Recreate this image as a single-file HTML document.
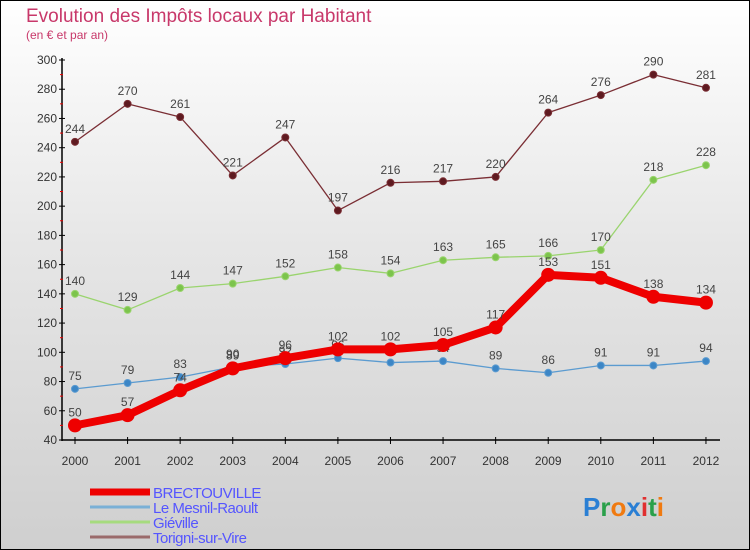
<!DOCTYPE html>
<html><head><meta charset="utf-8"><style>
body{margin:0;}
#c{position:relative;width:750px;height:550px;box-sizing:border-box;border:1px solid #000;background:linear-gradient(#fff 0%,#e6e6e6 45%,#cfcfcf 100%);font-family:"Liberation Sans",sans-serif;overflow:hidden}
</style></head><body>
<div id="c">
<svg id="s" width="750" height="550" style="position:absolute;left:-1px;top:-1px">
<text x="26" y="22" font-size="19" fill="#c8386a">Evolution des Impôts locaux par Habitant</text>
<text x="26" y="39" font-size="12" fill="#c8386a">(en € et par an)</text>
</svg>
</div>
<script>
const years=[2000,2001,2002,2003,2004,2005,2006,2007,2008,2009,2010,2011,2012];
const yTicks=[40,60,80,100,120,140,160,180,200,220,240,260,280,300];
const brectouville=[50,57,74,89,96,102,102,105,117,153,151,138,134];
const mesnil=[75,79,83,90,92,96,93,94,89,86,91,91,94];
const gieville=[140,129,144,147,152,158,154,163,165,166,170,218,228];
const torigni=[244,270,261,221,247,197,216,217,220,264,276,290,281];
const NS="http://www.w3.org/2000/svg";
const s=document.getElementById('s');
const X=i=>75+i*52.58;
const Y=v=>440-(v-40)*380/260;
function el(t,a,p){const e=document.createElementNS(NS,t);for(const k in a)e.setAttribute(k,a[k]);(p||s).appendChild(e);return e;}
// axes
let ax=el('line',{x1:62,y1:58,x2:62,y2:441,stroke:'#000','stroke-width':1.5});

let bx=el('line',{x1:62,y1:440,x2:720,y2:440,stroke:'#000','stroke-width':1.5});

yTicks.forEach((v,i)=>{
  el('line',{x1:59,y1:Y(v),x2:65,y2:Y(v),stroke:'#000'});
  if(i<yTicks.length-1)el('line',{x1:60,y1:Y(v+10),x2:63,y2:Y(v+10),stroke:'#e00'});
  const t=el('text',{x:57,y:Y(v)+4,'text-anchor':'end','font-size':12,fill:'#333'});t.textContent=v;
  
});
years.forEach((y,i)=>{
  el('line',{x1:X(i),y1:437,x2:X(i),y2:444,stroke:'#000'});
  const t=el('text',{x:X(i),y:465,'text-anchor':'middle','font-size':12,fill:'#333'});t.textContent=y;
  
});
function series(d,col,dot,w,r,name){
  const g=el('g',{});
  
  const l=el('polyline',{points:d.map((v,i)=>X(i)+','+Y(v)).join(' '),fill:'none',stroke:col,'stroke-width':w,'stroke-linejoin':'round'},g);
  
  d.forEach((v,i)=>{
    const c=el('circle',{cx:X(i),cy:Y(v),r:r,fill:dot,stroke:col,'stroke-width':1},g);
    
    const t=el('text',{x:X(i),y:Y(v)-9,'text-anchor':'middle','font-size':12,fill:'#444'},g);t.textContent=v;
    
  });
}
series(torigni,'#7a2e34','#5e1a20',1.3,3.5,'torigni');
series(gieville,'#9ad46e','#7cc44c',1.3,3.5,'gieville');
series(mesnil,'#5b9bd0','#3c86c6',1.3,3.5,'mesnil-raoult');
series(brectouville,'#ee0000','#ee0000',8,6.5,'brectouville');
// legend
const leg=[['BRECTOUVILLE','#ee0000',7],['Le Mesnil-Raoult','#7ab0d6',3],['Giéville','#a6db7e',3],['Torigni-sur-Vire','#9a6a6a',3]];
leg.forEach((L,i)=>{
  const y=492+i*15;
  const g=el('g',{});
  el('line',{x1:90,y1:y,x2:129+1,y2:y,stroke:L[1],'stroke-width':L[2]},g);
  el('line',{x1:100,y1:y,x2:150,y2:y,stroke:L[1],'stroke-width':L[2]},g);
  const t=el('text',{x:153,y:y+6,'font-size':15,fill:'#5555ff','letter-spacing':'-0.5'},g);t.textContent=L[0];
});
const p=el('text',{x:583,y:516,'font-size':26,'font-weight':'bold'});

[['P','#2a7fd4'],['r','#2aa04a'],['o','#f07a10'],['x','#2a7fd4'],['i','#e03030'],['t','#2aa04a'],['i','#f07a10']].forEach(c=>{const ts=el('tspan',{fill:c[1]},p);ts.textContent=c[0];});
</script>
</body></html>
